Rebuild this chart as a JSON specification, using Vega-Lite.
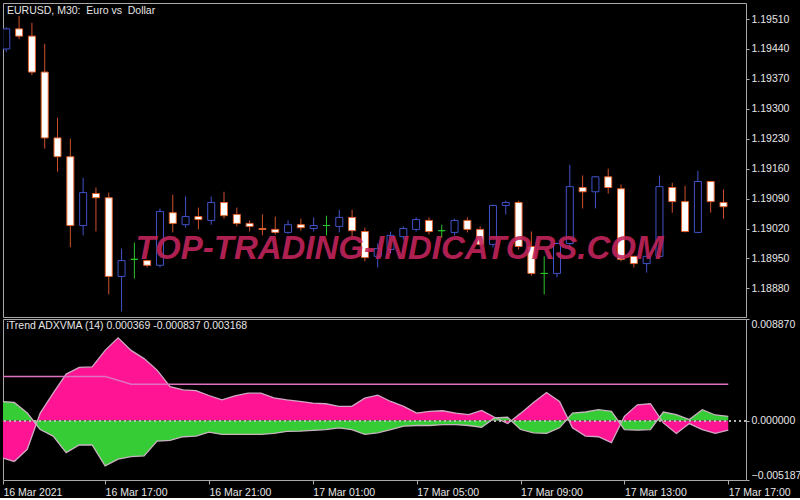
{
  "$schema": "https://vega.github.io/schema/vega-lite/v6.json",
  "background": "#000000",
  "padding": {"left": 2, "top": 2, "right": 0, "bottom": 0},
  "spacing": 0,
  "config": {
    "view": {"stroke": "#a8a8a8", "strokeWidth": 1},
    "axis": {"grid": false, "domain": false, "labelFont": "Liberation Sans", "labelFontSize": 10.5, "labelColor": "#e6e6e6", "tickColor": "#b0b0b0", "tickSize": 3, "labelPadding": 2, "title": null, "labelOverlap": false},
    "title": {"font": "Liberation Sans", "fontSize": 10.5, "fontWeight": "normal", "color": "#e6e6e6", "anchor": "start"}
  },
  "datasets": {
    "bars": [
      {"t": "2021-03-16T13:00:00", "open": 1.19440, "high": 1.19491, "low": 1.19433, "close": 1.19487, "pink": -0.00323, "green": 0.00167, "level": 0.00384},
      {"t": "2021-03-16T13:30:00", "open": 1.19487, "high": 1.19517, "low": 1.19463, "close": 1.19470, "pink": -0.00357, "green": 0.00158, "level": 0.00384},
      {"t": "2021-03-16T14:00:00", "open": 1.19470, "high": 1.19501, "low": 1.19379, "close": 1.19386, "pink": -0.00251, "green": 0.00066, "level": 0.00384},
      {"t": "2021-03-16T14:30:00", "open": 1.19386, "high": 1.19452, "low": 1.19207, "close": 1.19232, "pink": 0.00066, "green": -0.00078, "level": 0.00384},
      {"t": "2021-03-16T15:00:00", "open": 1.19232, "high": 1.19279, "low": 1.19153, "close": 1.19188, "pink": 0.00239, "green": -0.00135, "level": 0.00384},
      {"t": "2021-03-16T15:30:00", "open": 1.19188, "high": 1.19230, "low": 1.18976, "close": 1.19027, "pink": 0.00406, "green": -0.00279, "level": 0.00384},
      {"t": "2021-03-16T16:00:00", "open": 1.19027, "high": 1.19139, "low": 1.19004, "close": 1.19104, "pink": 0.00464, "green": -0.00213, "level": 0.00384},
      {"t": "2021-03-16T16:30:00", "open": 1.19102, "high": 1.19116, "low": 1.19013, "close": 1.19092, "pink": 0.00469, "green": -0.00213, "level": 0.00384},
      {"t": "2021-03-16T17:00:00", "open": 1.19092, "high": 1.19104, "low": 1.18866, "close": 1.18908, "pink": 0.00613, "green": -0.00395, "level": 0.00384},
      {"t": "2021-03-16T17:30:00", "open": 1.18908, "high": 1.18973, "low": 1.18826, "close": 1.18945, "pink": 0.00723, "green": -0.00337, "level": 0.00352},
      {"t": "2021-03-16T18:00:00", "open": 1.18948, "high": 1.18987, "low": 1.18903, "close": 1.18948, "pink": 0.00613, "green": -0.00314, "level": 0.003168},
      {"t": "2021-03-16T18:30:00", "open": 1.18945, "high": 1.18947, "low": 1.18929, "close": 1.18934, "pink": 0.00541, "green": -0.00308, "level": 0.003168},
      {"t": "2021-03-16T19:00:00", "open": 1.18934, "high": 1.19067, "low": 1.18929, "close": 1.19060, "pink": 0.00441, "green": -0.00179, "level": 0.003168},
      {"t": "2021-03-16T19:30:00", "open": 1.19057, "high": 1.19099, "low": 1.19011, "close": 1.19032, "pink": 0.00297, "green": -0.00173, "level": 0.003168},
      {"t": "2021-03-16T20:00:00", "open": 1.19029, "high": 1.19095, "low": 1.19022, "close": 1.19048, "pink": 0.00268, "green": -0.00141, "level": 0.003168},
      {"t": "2021-03-16T20:30:00", "open": 1.19048, "high": 1.19069, "low": 1.19018, "close": 1.19041, "pink": 0.00262, "green": -0.00135, "level": 0.003168},
      {"t": "2021-03-16T21:00:00", "open": 1.19039, "high": 1.19095, "low": 1.19029, "close": 1.19081, "pink": 0.00219, "green": -0.00101, "level": 0.003168},
      {"t": "2021-03-16T21:30:00", "open": 1.19081, "high": 1.19106, "low": 1.19043, "close": 1.19050, "pink": 0.00181, "green": -0.00121, "level": 0.003168},
      {"t": "2021-03-16T22:00:00", "open": 1.19053, "high": 1.19069, "low": 1.19025, "close": 1.19032, "pink": 0.00216, "green": -0.00121, "level": 0.003168},
      {"t": "2021-03-16T22:30:00", "open": 1.19032, "high": 1.19039, "low": 1.19013, "close": 1.19025, "pink": 0.00239, "green": -0.00121, "level": 0.003168},
      {"t": "2021-03-16T23:00:00", "open": 1.19020, "high": 1.19053, "low": 1.19004, "close": 1.19018, "pink": 0.00239, "green": -0.00121, "level": 0.003168},
      {"t": "2021-03-16T23:30:00", "open": 1.19018, "high": 1.19048, "low": 1.19006, "close": 1.19011, "pink": 0.00199, "green": -0.00112, "level": 0.003168},
      {"t": "2021-03-17T00:00:00", "open": 1.19011, "high": 1.19039, "low": 1.19008, "close": 1.19029, "pink": 0.00181, "green": -0.00095, "level": 0.003168},
      {"t": "2021-03-17T00:30:00", "open": 1.19029, "high": 1.19043, "low": 1.19015, "close": 1.19022, "pink": 0.00167, "green": -0.00092, "level": 0.003168},
      {"t": "2021-03-17T01:00:00", "open": 1.19020, "high": 1.19046, "low": 1.19013, "close": 1.19027, "pink": 0.00153, "green": -0.00086, "level": 0.003168},
      {"t": "2021-03-17T01:30:00", "open": 1.19027, "high": 1.19050, "low": 1.19004, "close": 1.19027, "pink": 0.00147, "green": -0.00078, "level": 0.003168},
      {"t": "2021-03-17T02:00:00", "open": 1.19025, "high": 1.19064, "low": 1.19011, "close": 1.19046, "pink": 0.00124, "green": -0.00063, "level": 0.003168},
      {"t": "2021-03-17T02:30:00", "open": 1.19046, "high": 1.19064, "low": 1.19001, "close": 1.19015, "pink": 0.00124, "green": -0.00078, "level": 0.003168},
      {"t": "2021-03-17T03:00:00", "open": 1.19013, "high": 1.19022, "low": 1.18943, "close": 1.18952, "pink": 0.00196, "green": -0.00121, "level": 0.003168},
      {"t": "2021-03-17T03:30:00", "open": 1.18955, "high": 1.18985, "low": 1.18929, "close": 1.18973, "pink": 0.00222, "green": -0.00107, "level": 0.003168},
      {"t": "2021-03-17T04:00:00", "open": 1.18971, "high": 1.19013, "low": 1.18962, "close": 1.19004, "pink": 0.00167, "green": -0.00078, "level": 0.003168},
      {"t": "2021-03-17T04:30:00", "open": 1.19001, "high": 1.19025, "low": 1.18994, "close": 1.19020, "pink": 0.00124, "green": -0.00049, "level": 0.003168},
      {"t": "2021-03-17T05:00:00", "open": 1.19018, "high": 1.19046, "low": 1.19013, "close": 1.19041, "pink": 0.00066, "green": -0.00043, "level": 0.003168},
      {"t": "2021-03-17T05:30:00", "open": 1.19039, "high": 1.19046, "low": 1.19006, "close": 1.19013, "pink": 0.00081, "green": -0.00043, "level": 0.003168},
      {"t": "2021-03-17T06:00:00", "open": 1.19015, "high": 1.19029, "low": 1.18999, "close": 1.19015, "pink": 0.00086, "green": -0.00035, "level": 0.003168},
      {"t": "2021-03-17T06:30:00", "open": 1.19011, "high": 1.19043, "low": 1.19004, "close": 1.19039, "pink": 0.00066, "green": -0.00035, "level": 0.003168},
      {"t": "2021-03-17T07:00:00", "open": 1.19039, "high": 1.19046, "low": 1.19011, "close": 1.19018, "pink": 0.00052, "green": -0.00043, "level": 0.003168},
      {"t": "2021-03-17T07:30:00", "open": 1.19018, "high": 1.19025, "low": 1.18978, "close": 1.18983, "pink": 0.00089, "green": -0.00058, "level": 0.003168},
      {"t": "2021-03-17T08:00:00", "open": 1.18983, "high": 1.19076, "low": 1.18976, "close": 1.19074, "pink": 0.00029, "green": 0.00023, "level": 0.003168},
      {"t": "2021-03-17T08:30:00", "open": 1.19074, "high": 1.19085, "low": 1.19053, "close": 1.19081, "pink": -0.00026, "green": 0.00029, "level": 0.003168},
      {"t": "2021-03-17T09:00:00", "open": 1.19081, "high": 1.19085, "low": 1.18971, "close": 1.18978, "pink": 0.00063, "green": -0.00078, "level": 0.003168},
      {"t": "2021-03-17T09:30:00", "open": 1.18978, "high": 1.19013, "low": 1.18910, "close": 1.18915, "pink": 0.00158, "green": -0.00107, "level": 0.003168},
      {"t": "2021-03-17T10:00:00", "open": 1.18915, "high": 1.18955, "low": 1.18866, "close": 1.18915, "pink": 0.00245, "green": -0.00112, "level": 0.003168},
      {"t": "2021-03-17T10:30:00", "open": 1.18915, "high": 1.18987, "low": 1.18906, "close": 1.18985, "pink": 0.00167, "green": -0.00063, "level": 0.003168},
      {"t": "2021-03-17T11:00:00", "open": 1.18985, "high": 1.19169, "low": 1.18971, "close": 1.19118, "pink": -0.00063, "green": 0.00066, "level": 0.003168},
      {"t": "2021-03-17T11:30:00", "open": 1.19116, "high": 1.19144, "low": 1.19067, "close": 1.19106, "pink": -0.00135, "green": 0.00075, "level": 0.003168},
      {"t": "2021-03-17T12:00:00", "open": 1.19106, "high": 1.19143, "low": 1.19067, "close": 1.19141, "pink": -0.00141, "green": 0.00095, "level": 0.003168},
      {"t": "2021-03-17T12:30:00", "open": 1.19141, "high": 1.19160, "low": 1.19102, "close": 1.19116, "pink": -0.00193, "green": 0.00081, "level": 0.003168},
      {"t": "2021-03-17T13:00:00", "open": 1.19113, "high": 1.19123, "low": 1.18943, "close": 1.18948, "pink": 0.00037, "green": -0.00078, "level": 0.003168},
      {"t": "2021-03-17T13:30:00", "open": 1.18955, "high": 1.18956, "low": 1.18929, "close": 1.18938, "pink": 0.00138, "green": -0.00084, "level": 0.003168},
      {"t": "2021-03-17T14:00:00", "open": 1.18938, "high": 1.18957, "low": 1.18917, "close": 1.18955, "pink": 0.00147, "green": -0.00078, "level": 0.003168},
      {"t": "2021-03-17T14:30:00", "open": 1.18955, "high": 1.19144, "low": 1.18953, "close": 1.19118, "pink": -0.00020, "green": 0.00075, "level": 0.003168},
      {"t": "2021-03-17T15:00:00", "open": 1.19116, "high": 1.19127, "low": 1.19057, "close": 1.19083, "pink": -0.00112, "green": 0.00052, "level": 0.003168},
      {"t": "2021-03-17T15:30:00", "open": 1.19083, "high": 1.19120, "low": 1.19011, "close": 1.19013, "pink": -0.00026, "green": 0.00009, "level": 0.003168},
      {"t": "2021-03-17T16:00:00", "open": 1.19011, "high": 1.19155, "low": 1.19009, "close": 1.19130, "pink": -0.00078, "green": 0.00095, "level": 0.003168},
      {"t": "2021-03-17T16:30:00", "open": 1.19130, "high": 1.19131, "low": 1.19057, "close": 1.19083, "pink": -0.00112, "green": 0.00049, "level": 0.003168},
      {"t": "2021-03-17T17:00:00", "open": 1.19081, "high": 1.19111, "low": 1.19043, "close": 1.19071, "pink": -0.000837, "green": 0.000369, "level": 0.003168}
    ]
  },
  "vconcat": [
    {
      "width": 743,
      "height": 314,
      "title": {"text": "EURUSD, M30:\u00a0 Euro vs\u00a0 Dollar", "offset": -13, "dx": 4},
      "data": {"name": "bars"},
      "layer": [
        {
          "mark": {"type": "rule", "strokeWidth": 1, "clip": true},
          "encoding": {
            "x": {"field": "t", "type": "temporal", "axis": null, "scale": {"domain": ["2021-03-16T13:04:00", "2021-03-17T17:41:00"]}},
            "y": {"field": "low", "type": "quantitative", "scale": {"domain": [1.188131, 1.195475], "zero": false, "nice": false}, "axis": {"orient": "right", "labelOverlap": false, "values": [1.1888, 1.1895, 1.1902, 1.1909, 1.1916, 1.1923, 1.193, 1.1937, 1.1944, 1.1951], "format": ".5f"}},
            "y2": {"field": "high"},
            "color": {"condition": [{"test": "datum.close > datum.open", "value": "#4052c8"}, {"test": "datum.close == datum.open", "value": "#2ac62a"}], "value": "#d0502a"}
          }
        },
        {
          "mark": {"type": "bar", "size": 7, "strokeWidth": 1, "clip": true},
          "encoding": {
            "x": {"field": "t", "type": "temporal", "axis": null},
            "y": {"field": "open", "type": "quantitative", "axis": {"orient": "right", "labelOverlap": false, "values": [1.1888, 1.1895, 1.1902, 1.1909, 1.1916, 1.1923, 1.193, 1.1937, 1.1944, 1.1951], "format": ".5f"}},
            "y2": {"field": "close"},
            "fill": {"condition": [{"test": "datum.close > datum.open", "value": "#000000"}, {"test": "datum.close == datum.open", "value": "#2ac62a"}], "value": "#ffffff"},
            "stroke": {"condition": [{"test": "datum.close > datum.open", "value": "#4052c8"}, {"test": "datum.close == datum.open", "value": "#2ac62a"}], "value": "#e0602a"}
          }
        },
        {
          "data": {"values": [{"label": "TOP-TRADING-INDICATORS.COM", "t": "2021-03-17T04:21:00", "p": 1.18973}]},
          "mark": {"type": "text", "font": "Liberation Sans", "fontSize": 33, "fontWeight": "bold", "fontStyle": "italic", "color": "#c0245a", "opacity": 0.9, "align": "center", "baseline": "middle"},
          "encoding": {
            "x": {"field": "t", "type": "temporal", "axis": null},
            "y": {"field": "p", "type": "quantitative", "axis": {"orient": "right", "labelOverlap": false, "values": [1.1888, 1.1895, 1.1902, 1.1909, 1.1916, 1.1923, 1.193, 1.1937, 1.1944, 1.1951], "format": ".5f"}},
            "text": {"field": "label"}
          }
        }
      ]
    },
    {
      "width": 743,
      "height": 161,
      "title": {"text": "iTrend ADXVMA (14) 0.000369 -0.000837 0.003168", "offset": -13, "dx": 4},
      "data": {"name": "bars"},
      "layer": [
        {
          "mark": {"type": "area", "color": "#ff1493", "clip": true},
          "encoding": {
            "x": {"field": "t", "type": "temporal", "scale": {"domain": ["2021-03-16T13:04:00", "2021-03-17T17:41:00"]},
              "axis": {"orient": "bottom", "tickSize": 4, "labelAlign": "left", "labelFlush": false, "labelOverlap": false, "labelBound": false, "labelPadding": 3,
                "values": ["2021-03-16T13:04:00", "2021-03-16T17:00:00", "2021-03-16T21:00:00", "2021-03-17T01:00:00", "2021-03-17T05:00:00", "2021-03-17T09:00:00", "2021-03-17T13:00:00", "2021-03-17T17:00:00"],
                "labelExpr": "timeFormat(datum.value, '%d %H') == '16 13' ? '16 Mar 2021' : timeFormat(datum.value, '%d %b %H:%M')"}},
            "y": {"field": "pink", "type": "quantitative", "scale": {"domain": [-0.005187, 0.00887], "zero": false, "nice": false}, "axis": {"orient": "right", "labelOverlap": false, "values": [0.00887, 0, -0.005187], "format": ".6f", "labelFlush": true}},
            "y2": {"datum": 0}
          }
        },
        {
          "mark": {"type": "area", "color": "#36cc36", "clip": true},
          "encoding": {
            "x": {"field": "t", "type": "temporal"},
            "y": {"field": "green", "type": "quantitative"},
            "y2": {"datum": 0}
          }
        },
        {
          "mark": {"type": "line", "color": "#d0a8c4", "strokeWidth": 1.3, "clip": true},
          "encoding": {"x": {"field": "t", "type": "temporal"}, "y": {"field": "pink", "type": "quantitative"}}
        },
        {
          "mark": {"type": "line", "color": "#c8b4c0", "strokeWidth": 1.3, "clip": true},
          "encoding": {"x": {"field": "t", "type": "temporal"}, "y": {"field": "green", "type": "quantitative"}}
        },
        {
          "mark": {"type": "rule", "color": "#b8b8b8", "strokeDash": [2, 3], "strokeWidth": 1},
          "encoding": {"y": {"datum": 0, "type": "quantitative"}}
        },
        {
          "mark": {"type": "line", "color": "#e070c0", "strokeWidth": 1.5, "clip": true},
          "encoding": {"x": {"field": "t", "type": "temporal"}, "y": {"field": "level", "type": "quantitative"}}
        }
      ]
    }
  ]
}
